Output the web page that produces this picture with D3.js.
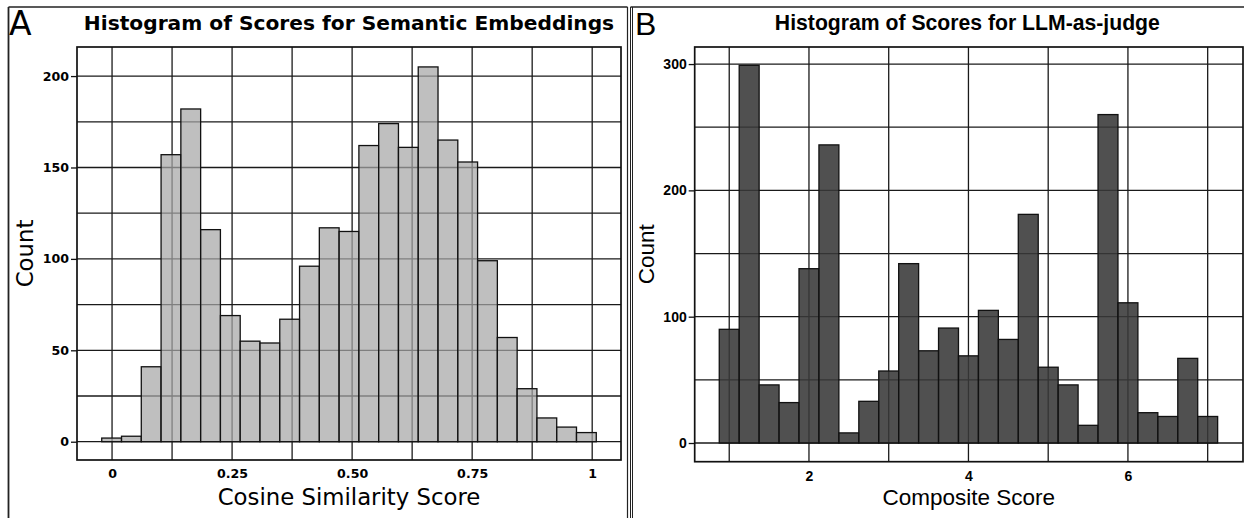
<!DOCTYPE html>
<html>
<head>
<meta charset="utf-8">
<script src="https://cdn.jsdelivr.net/npm/d3@7"></script>
<style>
  html, body { margin: 0; padding: 0; background: #fff; }
  svg { display: block; }
</style>
</head>
<body>
<svg id="chart" width="1244" height="518"></svg>
<script>
// ---------- DATA ----------
// Panel A: cosine similarity histogram (25 bins)
const simBinStart = -0.0215;
const simBinWidth = 0.0412;
const simCounts = [2, 3, 41, 157, 182, 116, 69, 55, 54, 67, 96, 117, 115, 162, 174, 161, 205, 165, 153, 99, 57, 29, 13, 8, 5];
const simXTicks = [0, 0.25, 0.5, 0.75, 1];
const simXTickLabels = ["0", "0.25", "0.50", "0.75", "1"];
const simYTicks = [0, 50, 100, 150, 200];
const simXGrid = [0, 0.125, 0.25, 0.375, 0.5, 0.625, 0.75, 0.875, 1];
const simYGrid = [0, 25, 50, 75, 100, 125, 150, 175, 200];

// Panel B: LLM-as-judge composite score histogram (25 bins)
const judgeBinStart = 0.875;
const judgeBinWidth = 0.25;
const judgeCounts = [90, 299, 46, 32, 138, 236, 8, 33, 57, 142, 73, 91, 69, 105, 82, 181, 60, 46, 14, 260, 111, 24, 21, 67, 21];
const judgeXTicks = [2, 4, 6];
const judgeXTickLabels = ["2", "4", "6"];
const judgeYTicks = [0, 100, 200, 300];
const judgeXGrid = [1, 2, 3, 4, 5, 6, 7];
const judgeYGrid = [0, 50, 100, 150, 200, 250, 300];

const titleA = "Histogram of Scores for Semantic Embeddings";
const titleB = "Histogram of Scores for LLM-as-judge";
const xLabelA = "Cosine Similarity Score";
const xLabelB = "Composite Score";
const yLabel = "Count";

// ---------- DRAW ----------
const svg = d3.select("#chart");

// panel borders
const borders = svg.append("g").attr("stroke", "#222").attr("fill", "none");
borders.append("line").attr("x1", 8.5).attr("x2", 627.5).attr("y1", 7).attr("y2", 7).attr("stroke-width", 1.5);
borders.append("line").attr("x1", 630.5).attr("x2", 1244).attr("y1", 7).attr("y2", 7).attr("stroke-width", 1.5);
borders.append("line").attr("x1", 8.5).attr("x2", 8.5).attr("y1", 7).attr("y2", 518).attr("stroke-width", 1.8);
borders.append("line").attr("x1", 627.5).attr("x2", 627.5).attr("y1", 7).attr("y2", 518).attr("stroke-width", 1.2);
borders.append("line").attr("x1", 630.5).attr("x2", 630.5).attr("y1", 7).attr("y2", 518).attr("stroke-width", 1);
borders.append("line").attr("x1", 632.5).attr("x2", 632.5).attr("y1", 7).attr("y2", 518).attr("stroke-width", 1);

function panel(cfg) {
  const g = svg.append("g");
  const x = d3.scaleLinear().domain(cfg.xDomain).range([cfg.left, cfg.right]);
  const y = d3.scaleLinear().domain(cfg.yDomain).range([cfg.bottom, cfg.top]);

  // grid
  const grid = g.append("g").attr("stroke", "#1a1a1a").attr("stroke-width", 1.3);
  grid.selectAll("line.v").data(cfg.xGrid).join("line").attr("class", "v")
    .attr("x1", d => x(d)).attr("x2", d => x(d)).attr("y1", cfg.top).attr("y2", cfg.bottom);
  grid.selectAll("line.h").data(cfg.yGrid).join("line").attr("class", "h")
    .attr("x1", cfg.left).attr("x2", cfg.right).attr("y1", d => y(d)).attr("y2", d => y(d));

  // bars
  const bins = cfg.counts.map((c, i) => ({ x0: cfg.binStart + i * cfg.binWidth, x1: cfg.binStart + (i + 1) * cfg.binWidth, c }));
  g.append("g").selectAll("rect").data(bins).join("rect")
    .attr("x", d => x(d.x0)).attr("width", d => x(d.x1) - x(d.x0))
    .attr("y", d => y(d.c)).attr("height", d => y(0) - y(d.c))
    .attr("fill", cfg.barFill).attr("fill-opacity", cfg.barOpacity)
    .attr("stroke", "#111").attr("stroke-width", 1.3);

  // frame
  g.append("rect").attr("x", cfg.left).attr("y", cfg.top)
    .attr("width", cfg.right - cfg.left).attr("height", cfg.bottom - cfg.top)
    .attr("fill", "none").attr("stroke", "#111").attr("stroke-width", 1.7);

  // y axis
  const yAxis = d3.axisLeft(y).tickValues(cfg.yTicks).tickSize(6).tickPadding(2).tickFormat(d3.format("d"));
  const ya = g.append("g").attr("transform", `translate(${cfg.left},0)`).call(yAxis);
  ya.select(".domain").remove();
  ya.selectAll(".tick line").attr("stroke", "#111").attr("stroke-width", 1.3);
  ya.selectAll(".tick text")
    .style("font-family", cfg.font).style("font-weight", "bold")
    .style("font-size", cfg.tickSize + "px").style("fill", "#000");

  // x axis
  const xAxis = d3.axisBottom(x).tickValues(cfg.xTicks).tickSize(0).tickPadding(cfg.xTickPad)
    .tickFormat((d, i) => cfg.xTickLabels[i]);
  const xa = g.append("g").attr("transform", `translate(0,${cfg.bottom})`).call(xAxis);
  xa.select(".domain").remove();
  xa.selectAll(".tick text")
    .style("font-family", cfg.font).style("font-weight", "bold")
    .style("font-size", cfg.tickSize + "px").style("fill", "#000");

  // titles/labels
  const cx = (cfg.left + cfg.right) / 2;
  g.append("text").attr("x", cx + cfg.titleDx).attr("y", 29.5).attr("text-anchor", "middle")
    .style("font-family", cfg.font).style("font-weight", "bold")
    .style("font-size", cfg.titleSize + "px").style("fill", "#000").text(cfg.title);
  g.append("text").attr("x", cx).attr("y", 505).attr("text-anchor", "middle")
    .style("font-family", cfg.font).style("font-size", cfg.labelSize + "px").style("fill", "#000").text(cfg.xLabel);
  g.append("text").attr("transform", `translate(${cfg.yLabelX},${(cfg.top + cfg.bottom) / 2}) rotate(-90)`)
    .attr("text-anchor", "middle").style("font-family", cfg.font).style("font-size", cfg.labelSize + "px")
    .style("fill", "#000").text(yLabel);
  g.append("text").attr("x", cfg.letterX).attr("y", 35)
    .style("font-family", cfg.font).style("font-size", cfg.letterSize + "px").style("fill", "#000").text(cfg.letter);
}

panel({
  left: 77, right: 621, top: 47, bottom: 460,
  xDomain: [-0.073, 1.06], yDomain: [-10, 215.9],
  binStart: simBinStart, binWidth: simBinWidth, counts: simCounts,
  xGrid: simXGrid, yGrid: simYGrid, xTicks: simXTicks, xTickLabels: simXTickLabels, yTicks: simYTicks,
  barFill: "#a6a6a6", barOpacity: 0.72,
  font: "DejaVu Sans", tickSize: 12.6, xTickPad: 9, titleSize: 20.2, titleDx: 0, labelSize: 22.8,
  title: titleA, xLabel: xLabelA, yLabelX: 33, letter: "A", letterX: 9, letterSize: 33
});

panel({
  left: 694.7, right: 1243, top: 47, bottom: 461.7,
  xDomain: [0.567, 7.443], yDomain: [-14.8, 313.5],
  binStart: judgeBinStart, binWidth: judgeBinWidth, counts: judgeCounts,
  xGrid: judgeXGrid, yGrid: judgeYGrid, xTicks: judgeXTicks, xTickLabels: judgeXTickLabels, yTicks: judgeYTicks,
  barFill: "#383838", barOpacity: 0.88,
  font: "Liberation Sans", tickSize: 14, xTickPad: 9, titleSize: 21.2, titleDx: -1.5, labelSize: 22.5,
  title: titleB, xLabel: xLabelB, yLabelX: 653.5, letter: "B", letterX: 635, letterSize: 32
});
</script>
</body>
</html>
